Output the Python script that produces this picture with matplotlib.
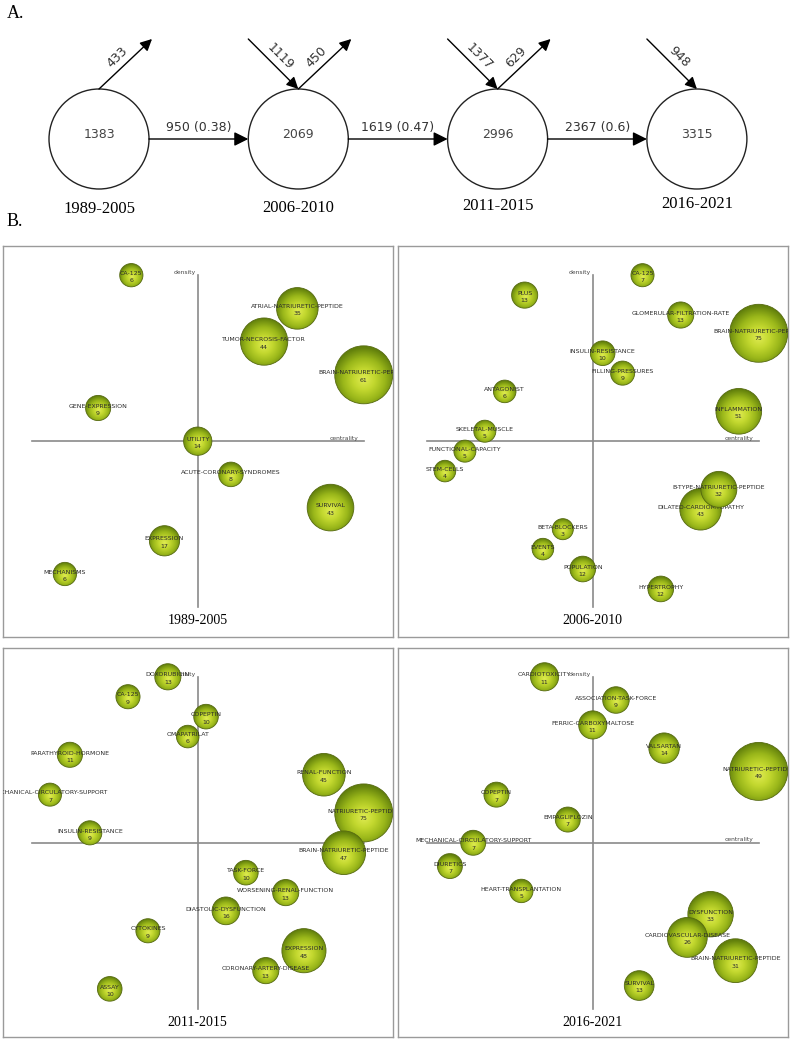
import numpy as np
import matplotlib
matplotlib.use('Agg')
import matplotlib.pyplot as plt
from matplotlib.patches import Circle
from matplotlib.colors import LinearSegmentedColormap
from matplotlib import transforms


# Part A: keyword evolution between periods
periods = ['1989-2005', '2006-2010', '2011-2015', '2016-2021']
keywords = [1383, 2069, 2996, 3315]
shared = [950, 1619, 2367]
shared_ratio = [0.38, 0.47, 0.6]
incoming = [None, 1119, 1377, 948]
outgoing = [433, 450, 629, None]

# Part B: strategic diagrams (centrality / density, rank based)
themes_1989 = ['CA-125', 'ATRIAL-NATRIURETIC-PEPTIDE', 'TUMOR-NECROSIS-FACTOR',
               'BRAIN-NATRIURETIC-PEPTIDE', 'GENE-EXPRESSION', 'UTILITY',
               'ACUTE-CORONARY-SYNDROMES', 'SURVIVAL', 'EXPRESSION', 'MECHANISMS']
counts_1989 = [6, 35, 44, 61, 9, 14, 8, 43, 17, 6]
centrality_1989 = [-0.4, 0.6, 0.4, 1.0, -0.6, 0.0, 0.2, 0.8, -0.2, -0.8]
density_1989 = [1.0, 0.8, 0.6, 0.4, 0.2, 0.0, -0.2, -0.4, -0.6, -0.8]

themes_2006 = ['CA-125', 'PLUS', 'GLOMERULAR-FILTRATION-RATE', 'BRAIN-NATRIURETIC-PEPTIDE',
               'INSULIN-RESISTANCE', 'FILLING-PRESSURES', 'ANTAGONIST', 'INFLAMMATION',
               'SKELETAL-MUSCLE', 'FUNCTIONAL-CAPACITY', 'STEM-CELLS',
               'B-TYPE-NATRIURETIC-PEPTIDE', 'DILATED-CARDIOMYOPATHY', 'BETA-BLOCKERS',
               'EVENTS', 'POPULATION', 'HYPERTROPHY']
counts_2006 = [7, 13, 13, 75, 10, 9, 6, 51, 5, 5, 4, 32, 43, 3, 4, 12, 12]
centrality_2006 = [0.30, -0.41, 0.53, 1.0, 0.06, 0.18, -0.53, 0.88, -0.65, -0.77, -0.89,
                   0.76, 0.65, -0.18, -0.30, -0.06, 0.41]
density_2006 = [1.0, 0.88, 0.76, 0.65, 0.53, 0.41, 0.30, 0.18, 0.06, -0.06, -0.18,
                -0.29, -0.41, -0.53, -0.65, -0.77, -0.89]

themes_2011 = ['DOXORUBICIN', 'CA-125', 'COPEPTIN', 'OMAPATRILAT', 'PARATHYROID-HORMONE',
               'RENAL-FUNCTION', 'MECHANICAL-CIRCULATORY-SUPPORT', 'NATRIURETIC-PEPTIDES',
               'INSULIN-RESISTANCE', 'BRAIN-NATRIURETIC-PEPTIDE', 'TASK-FORCE',
               'WORSENING-RENAL-FUNCTION', 'DIASTOLIC-DYSFUNCTION', 'CYTOKINES',
               'EXPRESSION', 'CORONARY-ARTERY-DISEASE', 'ASSAY']
counts_2011 = [13, 9, 10, 6, 11, 45, 7, 75, 9, 47, 10, 13, 16, 9, 48, 13, 10]
centrality_2011 = [-0.18, -0.42, 0.05, -0.06, -0.77, 0.76, -0.89, 1.0, -0.65, 0.88, 0.29,
                   0.53, 0.17, -0.30, 0.64, 0.41, -0.53]
density_2011 = [1.0, 0.88, 0.76, 0.64, 0.53, 0.41, 0.29, 0.18, 0.06, -0.06, -0.18,
                -0.30, -0.41, -0.53, -0.65, -0.77, -0.88]

themes_2016 = ['CARDIOTOXICITY', 'ASSOCIATION-TASK-FORCE', 'FERRIC-CARBOXYMALTOSE',
               'VALSARTAN', 'NATRIURETIC-PEPTIDES', 'COPEPTIN', 'EMPAGLIFLOZIN',
               'MECHANICAL-CIRCULATORY-SUPPORT', 'DIURETICS', 'HEART-TRANSPLANTATION',
               'DYSFUNCTION', 'CARDIOVASCULAR-DISEASE', 'BRAIN-NATRIURETIC-PEPTIDE', 'SURVIVAL']
counts_2016 = [11, 9, 11, 14, 49, 7, 7, 7, 7, 5, 33, 26, 31, 13]
centrality_2016 = [-0.29, 0.14, 0.0, 0.43, 1.0, -0.58, -0.15, -0.72, -0.86, -0.43,
                   0.71, 0.57, 0.86, 0.28]
density_2016 = [1.0, 0.86, 0.71, 0.57, 0.43, 0.29, 0.14, 0.0, -0.14, -0.29,
                -0.43, -0.57, -0.71, -0.86]

W, H = 790, 1040
SERIF = 'Liberation Serif'
fig = plt.figure(figsize=(W / 100, H / 100), dpi=100)

# ---- part A, drawn in pixel coordinates
top = fig.add_axes([0, 0, 1, 1])
top.set_xlim(0, W)
top.set_ylim(H, 0)
top.axis('off')

top.text(7, 13, 'A.', family=SERIF, fontsize=13, va='center')
top.text(7, 222, 'B.', family=SERIF, fontsize=13, va='center')

cx0, step, cy, rad = 99, 199.3, 139, 50
period_y = [209, 208, 206, 204]
big_head = dict(arrowstyle='-|>,head_length=0.5,head_width=0.25', color='black',
                lw=1, shrinkA=0, shrinkB=0, mutation_scale=17)
small_head = dict(big_head, mutation_scale=14)

for i, n in enumerate(keywords):
    x = cx0 + i * step
    top.add_patch(Circle((x, cy), rad, fill=False, lw=1, ec='#222222'))
    top.text(x, cy - 4, str(n), ha='center', va='center', fontsize=9, color='#444444')
    top.text(x, period_y[i], periods[i], family=SERIF, fontsize=12, ha='center', va='center')
    if incoming[i] is not None:
        x1, y1, x2, y2 = x - 50, 39, x, cy - rad
        top.annotate('', xy=(x2, y2), xytext=(x1, y1), arrowprops=small_head)
        top.text((x1 + x2) / 2 + 7, (y1 + y2) / 2 - 7, str(incoming[i]), rotation=-45,
                 ha='center', va='center', fontsize=9, color='#333333')
    if outgoing[i] is not None:
        x1, y1, x2, y2 = x, cy - rad, x + 53, 39
        top.annotate('', xy=(x2, y2), xytext=(x1, y1), arrowprops=small_head)
        top.text((x1 + x2) / 2 - 8, (y1 + y2) / 2 - 7, str(outgoing[i]), rotation=45,
                 ha='center', va='center', fontsize=9, color='#333333')

for i, (n, r) in enumerate(zip(shared, shared_ratio)):
    x1 = cx0 + i * step + rad
    x2 = cx0 + (i + 1) * step - rad
    top.annotate('', xy=(x2, cy), xytext=(x1, cy), arrowprops=big_head)
    top.text((x1 + x2) / 2, 128, f'{n} ({r:g})', ha='center', va='center',
             fontsize=9, color='#333333')

# ---- part B
g = np.linspace(-1, 1, 90)
gx, gy = np.meshgrid(g, g)
grad = np.clip(np.hypot(gx, gy + 0.15) / 1.1, 0, 1)
bubble_cmap = LinearSegmentedColormap.from_list(
    'bubble', ['#dfeb52', '#c3d82f', '#9ab71a', '#62800c'])

PX = 166  # pixels per unit of the crosshair
LABEL_SIZE = 4.5
boxes = [(2.7, 245.7, 390, 391), (397.7, 245.7, 390, 391),
         (2.7, 648.3, 390, 389), (397.7, 648.3, 390, 389)]
panels = [(themes_1989, counts_1989, centrality_1989, density_1989),
          (themes_2006, counts_2006, centrality_2006, density_2006),
          (themes_2011, counts_2011, centrality_2011, density_2011),
          (themes_2016, counts_2016, centrality_2016, density_2016)]

for (l, t, w, h), (names, counts, cen, den), period in zip(boxes, panels, periods):
    ax = fig.add_axes([l / W, 1 - (t + h) / H, w / W, h / H])
    xl, yl = w / 2 / PX, h / 2 / PX
    ax.set_xticks([])
    ax.set_yticks([])
    for s in ax.spines.values():
        s.set_color('#9a9a9a')
        s.set_linewidth(1.0)

    ax.plot([-1, 1], [0, 0], color='#8a8a8a', lw=1.2, zorder=1)
    ax.plot([0, 0], [-1, 1], color='#8a8a8a', lw=1.2, zorder=1)
    ax.text(-0.01, 1.0, 'density', ha='right', va='bottom', fontsize=4.3, color='#444444', zorder=2)
    ax.text(0.965, 0.004, 'centrality', ha='right', va='bottom', fontsize=4.3,
            color='#444444', zorder=2)
    ax.text(0, -1.083, period, family=SERIF, fontsize=10, ha='center', va='center')

    up = transforms.offset_copy(ax.transData, fig=fig, y=1.3, units='points')
    down = transforms.offset_copy(ax.transData, fig=fig, y=-3.9, units='points')
    vmax = max(counts)
    order = sorted(range(len(counts)), key=lambda k: -counts[k])
    for z, k in enumerate(order):
        x, y, v = cen[k], den[k], counts[k]
        r = (9.75 + 19.25 * v / vmax) / PX
        zz = 3 + z
        circ = Circle((x, y), r, fc='none', ec='#55690f', lw=0.6, zorder=zz + 0.1)
        ax.add_patch(circ)
        im = ax.imshow(grad, extent=[x - r, x + r, y - r, y + r], origin='lower',
                       cmap=bubble_cmap, vmin=0, vmax=1, aspect='auto',
                       interpolation='bilinear', zorder=zz)
        im.set_clip_path(circ)
        ax.text(x, y, names[k], transform=up, ha='center', va='center', fontsize=LABEL_SIZE,
                color='#2a2a2a', zorder=zz + 0.2, clip_on=True)
        ax.text(x, y, str(v), transform=down, ha='center', va='center', fontsize=LABEL_SIZE,
                color='#2a2a2a', zorder=zz + 0.2, clip_on=True)

    ax.set_xlim(-xl, xl)
    ax.set_ylim(-yl, yl)

fig.savefig('out.png', dpi=100)
